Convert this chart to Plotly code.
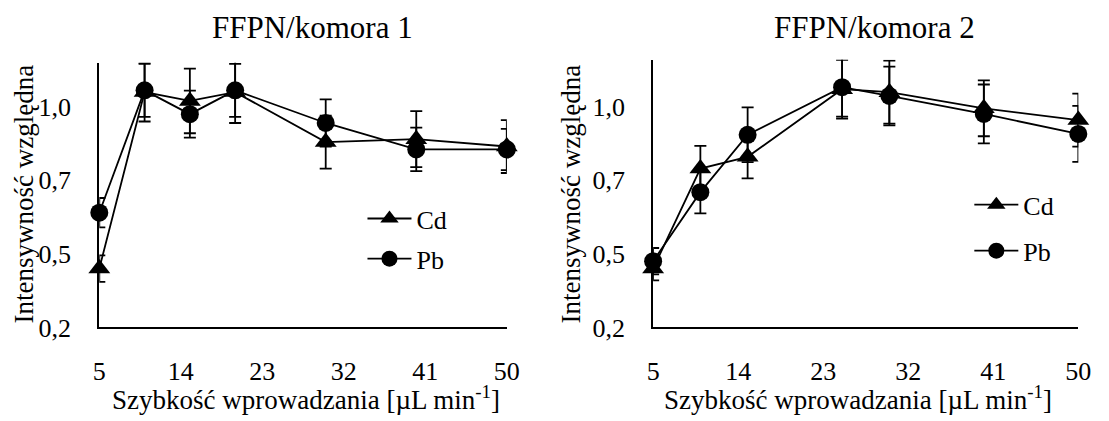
import plotly.graph_objects as go

# Flow rates (µL/min) for each chamber
flow_k1 = [5, 10, 15, 20, 30, 40, 50]
flow_k2 = [5, 10, 15, 25, 30, 40, 50]

# Relative intensity, chamber 1
cd_k1 = [0.40, 1.00, 0.97, 1.00, 0.83, 0.84, 0.815]
cd_k1_err = [0.045, 0.10, 0.11, 0.105, 0.09, 0.095, 0.09]
pb_k1 = [0.59, 1.006, 0.925, 1.006, 0.895, 0.805, 0.805]
pb_k1_err = [0.05, 0.09, 0.08, 0.09, 0.08, 0.074, 0.07]

# Relative intensity, chamber 2
cd_k2 = [0.40, 0.74, 0.78, 1.01, 1.00, 0.945, 0.905]
cd_k2_err = [0.04, 0.077, 0.073, 0.10, 0.107, 0.095, 0.09]
pb_k2 = [0.425, 0.66, 0.855, 1.017, 0.987, 0.926, 0.858]
pb_k2_err = [0.045, 0.072, 0.093, 0.10, 0.10, 0.10, 0.095]

x_ticks = [5, 14, 23, 32, 41, 50]
y_tickvals = [0.2, 0.45, 0.7, 0.95]
y_ticktext = ["0,2", "0,5", "0,7", "1,0"]

titles = ["FFPN/komora 1", "FFPN/komora 2"]
x_title = "Szybkość wprowadzania [µL min<sup>-1</sup>]"
y_title = "Intensywność względna"

FONT = "Liberation Serif, Times New Roman, serif"
W, H = 1109, 421


def px_x(p):
    return p / W


def px_y(p):
    return 1 - p / H


fig = go.Figure()


def add_series(x, y, err, name, symbol, size, xa, ya, legend):
    fig.add_trace(go.Scatter(
        x=x, y=y, name=name, mode="lines+markers",
        xaxis=xa, yaxis=ya, legend=legend,
        line=dict(color="black", width=1.8),
        marker=dict(symbol=symbol, size=size, color="black"),
        error_y=dict(type="data", array=err, visible=True,
                     color="black", thickness=1.8, width=6),
        cliponaxis=False,
    ))


add_series(flow_k1, cd_k1, cd_k1_err, "Cd", "triangle-up", 19, "x", "y", "legend")
add_series(flow_k1, pb_k1, pb_k1_err, "Pb", "circle", 18, "x", "y", "legend2")
add_series(flow_k2, cd_k2, cd_k2_err, "Cd", "triangle-up", 19, "x2", "y2", "legend3")
add_series(flow_k2, pb_k2, pb_k2_err, "Pb", "circle", 18, "x2", "y2", "legend4")

tick_font = dict(family=FONT, size=26, color="black")

xaxis_common = dict(
    range=[5, 50], tickvals=x_ticks, showgrid=False, zeroline=False,
    showline=True, linecolor="black", linewidth=2, ticks="",
    tickfont=tick_font, ticklabelstandoff=19,
)
yaxis_common = dict(
    tickvals=y_tickvals, ticktext=y_ticktext, showgrid=False, zeroline=False,
    showline=True, linecolor="black", linewidth=2, ticks="",
    tickfont=tick_font, ticklabelstandoff=21,
)

plot_bottom = 339.5
fig.update_layout(
    width=W, height=H,
    margin=dict(l=0, r=0, t=0, b=0),
    paper_bgcolor="white", plot_bgcolor="white",
    font=dict(family=FONT, color="black"),
    xaxis=dict(domain=[px_x(94), px_x(509)], anchor="y", **xaxis_common),
    yaxis=dict(domain=[px_y(plot_bottom), px_y(65)], anchor="x",
               range=[0.2, 1.1], **yaxis_common),
    xaxis2=dict(domain=[px_x(658), px_x(1091)], anchor="y2", **xaxis_common),
    yaxis2=dict(domain=[px_y(plot_bottom), px_y(62)], anchor="x2",
                range=[0.2, 1.11], **yaxis_common),
    showlegend=True,
)

legend_font = dict(family=FONT, size=26, color="black")
legend_pos = [("legend", 362, 226.7), ("legend2", 362, 268.3),
              ("legend3", 980, 212.3), ("legend4", 980, 260)]
for key, lx, ly in legend_pos:
    fig.update_layout({key: dict(
        x=px_x(lx), y=px_y(ly), xanchor="left", yanchor="middle",
        bgcolor="rgba(0,0,0,0)", borderwidth=0, font=legend_font,
        itemwidth=44, tracegroupgap=0,
    )})

annotations = []
for title, cx in zip(titles, [311, 883]):
    annotations.append(dict(
        text=title, x=px_x(cx), y=px_y(29), xref="paper", yref="paper",
        showarrow=False, xanchor="center", yanchor="middle",
        font=dict(family=FONT, size=31, color="black"),
    ))
for cx in [305, 867]:
    annotations.append(dict(
        text=x_title, x=px_x(cx), y=px_y(413), xref="paper", yref="paper",
        showarrow=False, xanchor="center", yanchor="middle",
        font=dict(family=FONT, size=27, color="black"),
    ))
for cx in [17, 574]:
    annotations.append(dict(
        text=y_title, x=px_x(cx), y=px_y(201), xref="paper", yref="paper",
        showarrow=False, xanchor="center", yanchor="middle", textangle=-90,
        font=dict(family=FONT, size=27, color="black"),
    ))
fig.update_layout(annotations=annotations)

fig.write_html("out.html")
